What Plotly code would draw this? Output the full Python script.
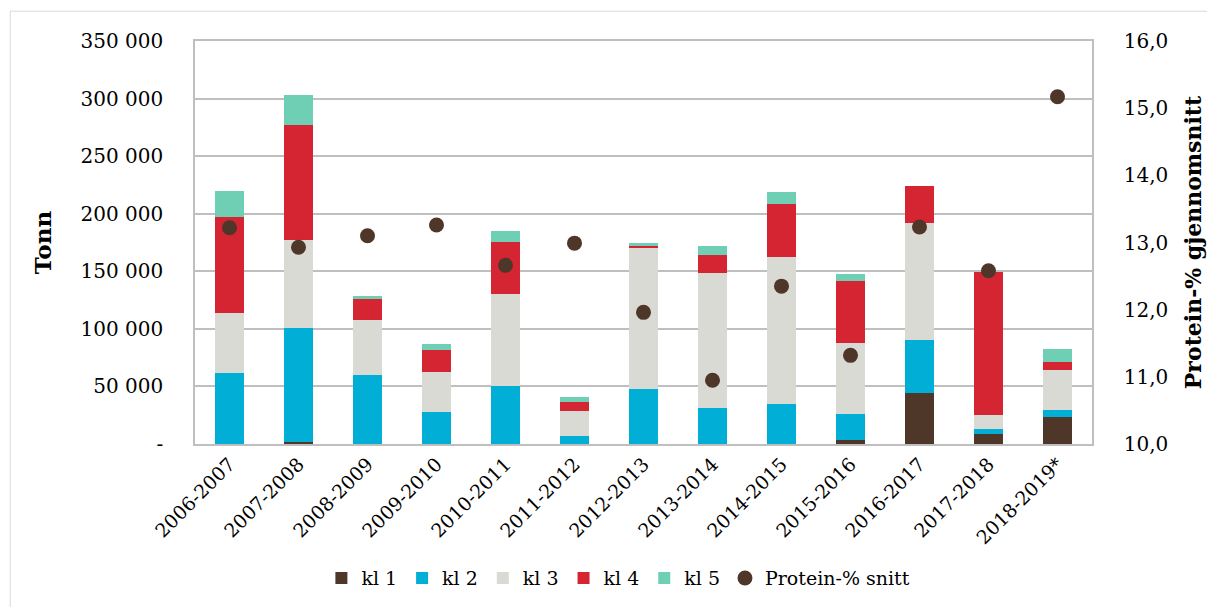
import plotly.graph_objects as go
from plotly.subplots import make_subplots

seasons = ["2006-2007", "2007-2008", "2008-2009", "2009-2010", "2010-2011", "2011-2012",
           "2012-2013", "2013-2014", "2014-2015", "2015-2016", "2016-2017", "2017-2018",
           "2018-2019*"]

kl1 = [0, 2000, 0, 0, 0, 0, 0, 0, 0, 3700, 44500, 8400, 23400]
kl2 = [61400, 99000, 59600, 27800, 50600, 6900, 47500, 31500, 35000, 22100, 45500, 4900, 5800]
kl3 = [52300, 76300, 47800, 34700, 79300, 21500, 122400, 117200, 127600, 61900, 102100, 11900, 35000]
kl4 = [83100, 99900, 18700, 19400, 45400, 7800, 2000, 15600, 46000, 54000, 32400, 123800, 7000]
kl5 = [22500, 25800, 2400, 4900, 9300, 4600, 2600, 7600, 9900, 6100, 0, 0, 11500]
protein = [13.22, 12.93, 13.10, 13.26, 12.66, 12.99, 11.96, 10.95, 12.35, 11.32, 13.23, 12.58, 15.17]

left_ticks = [0, 50000, 100000, 150000, 200000, 250000, 300000, 350000]
left_text = ["-", "50 000", "100 000", "150 000", "200 000", "250 000", "300 000", "350 000"]
right_ticks = [10, 11, 12, 13, 14, 15, 16]
right_text = ["10,0", "11,0", "12,0", "13,0", "14,0", "15,0", "16,0"]

FONT = "DejaVu Serif"
GRID = "#BFBFBF"

fig = make_subplots(specs=[[{"secondary_y": True}]])

classes = [
    ("kl 1", kl1, "#4E3629"),
    ("kl 2", kl2, "#00AED6"),
    ("kl 3", kl3, "#DADAD5"),
    ("kl 4", kl4, "#D52532"),
    ("kl 5", kl5, "#6FCFB4"),
]
for name, vals, color in classes:
    fig.add_trace(
        go.Bar(x=seasons, y=vals, name=name, marker=dict(color=color, line=dict(width=0))),
        secondary_y=False,
    )

fig.add_trace(
    go.Scatter(
        x=seasons, y=protein, name="Protein-% snitt", mode="markers",
        marker=dict(color="#4E3629", size=15),
    ),
    secondary_y=True,
)

# page body has an 8px margin, so the figure is a bit smaller and shifted
fig.update_layout(
    width=1207,
    height=599,
    barmode="stack",
    bargap=0.575,
    plot_bgcolor="white",
    paper_bgcolor="white",
    font=dict(family=FONT, size=18, color="black"),
    margin=dict(l=187, r=123, t=33, b=163, autoexpand=False),
    legend=dict(
        orientation="h", x=0.472, xanchor="center", y=-0.333, yanchor="middle",
        font=dict(size=19), itemwidth=30, traceorder="normal",
    ),
    shapes=[dict(type="rect", xref="paper", yref="paper",
                 x0=-0.206, x1=1.16, y0=-0.45, y1=1.074,
                 line=dict(color="#D9D9D9", width=1), layer="below")],
)

fig.update_xaxes(
    domain=[0, 1], range=[-0.5, len(seasons) - 0.5], tickangle=-45,
    showline=True, mirror=True, linecolor=GRID, linewidth=1.5, ticks="",
    tickfont=dict(size=19), automargin=False,
)
fig.update_yaxes(
    range=[0, 350000], tickvals=left_ticks, ticktext=left_text,
    showgrid=True, gridcolor=GRID, gridwidth=1.5,
    showline=True, linecolor=GRID, linewidth=1.5, ticks="", ticklabelstandoff=26,
    title=dict(text="<b>Tonn</b>", font=dict(size=23), standoff=22),
    tickfont=dict(size=20), automargin=False,
    secondary_y=False,
)
fig.update_yaxes(
    range=[10, 16], tickvals=right_ticks, ticktext=right_text,
    showgrid=False, showline=True, linecolor=GRID, linewidth=1.5, ticks="",
    ticklabelstandoff=26,
    title=dict(text="<b>Protein-% gjennomsnitt</b>", font=dict(size=22), standoff=18),
    tickfont=dict(size=20), automargin=False,
    secondary_y=True,
)

fig.write_html("out.html")
